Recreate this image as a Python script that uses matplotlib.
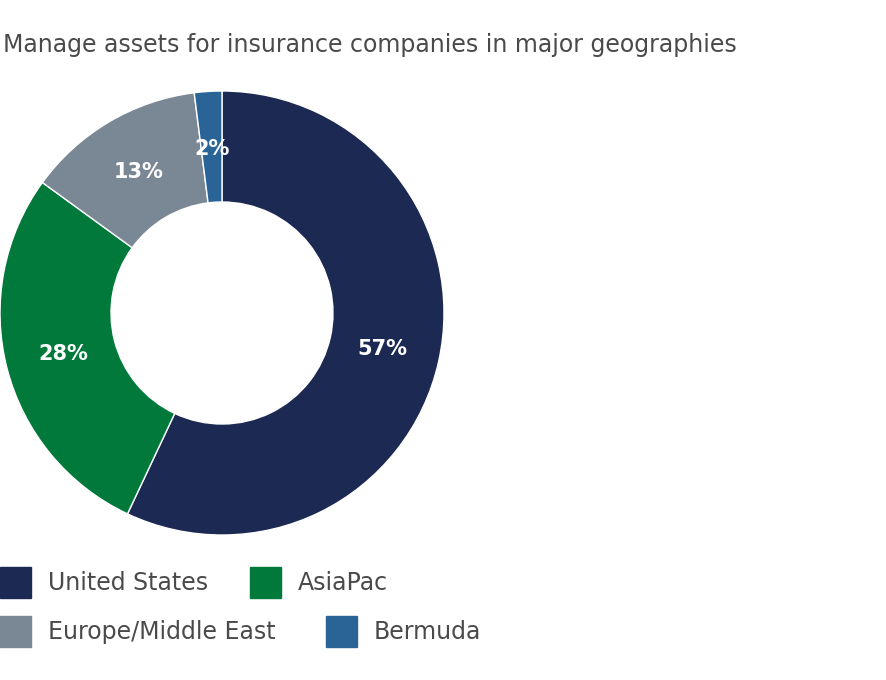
import matplotlib
matplotlib.use("Agg")
import matplotlib.pyplot as plt
from matplotlib.patches import Rectangle

categories = ["United States", "AsiaPac", "Europe/Middle East", "Bermuda"]
values = [57, 28, 13, 2]
colors = ["#1b2953", "#00793a", "#7a8794", "#2a6497"]

fig = plt.figure(figsize=(8.86, 6.80), dpi=100)
W, H = 886, 680
ax = fig.add_axes([0/W, (H-535)/H, 444/W, 444/H])
wedges, texts, autotexts = ax.pie(
    values, colors=colors, startangle=90, counterclock=False,
    wedgeprops=dict(width=0.5, edgecolor="white", linewidth=1),
    autopct=lambda p: f"{p:.0f}%", pctdistance=0.74,
    textprops=dict(color="white", fontsize=15, fontweight="bold"))
ax.set_xlim(-1, 1)
ax.set_ylim(-1, 1)
ax.set_aspect("equal")

fig.text(3/W, 1-45/H, "Manage assets for insurance companies in major geographies",
         fontsize=17, color="#4a4a4a", va="center", ha="left")

pos = [(0, 583), (250, 583), (0, 632), (326, 632)]
for (x, y), lab, c in zip(pos, categories, colors):
    fig.patches.append(Rectangle((x/W, (H-y-15)/H), 31/W, 31/H, color=c,
                                 transform=fig.transFigure, figure=fig))
    fig.text((x+48)/W, 1-y/H, lab, fontsize=17, color="#4a4a4a", va="center", ha="left")

fig.savefig("out.png", dpi=100)
